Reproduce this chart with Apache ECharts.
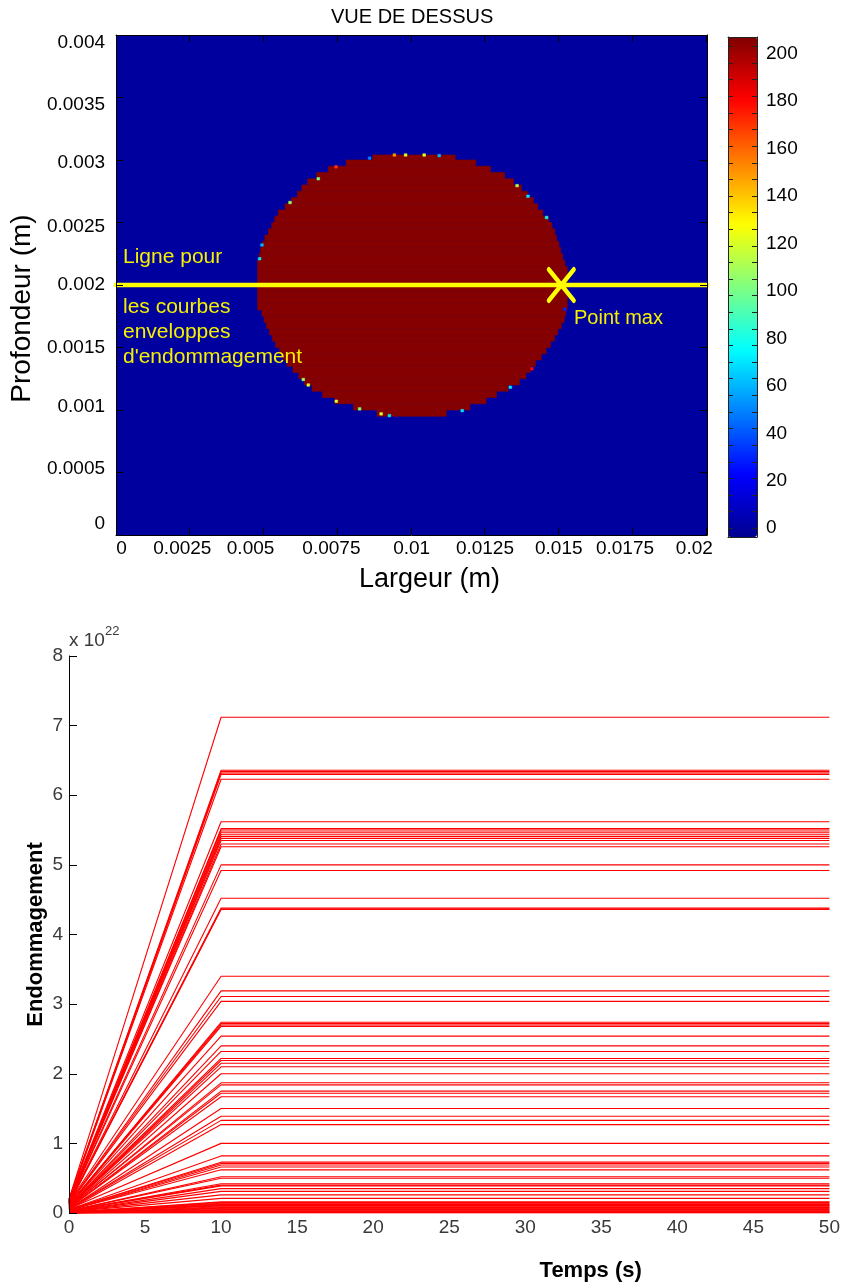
<!DOCTYPE html>
<html>
<head>
<meta charset="utf-8">
<script src="https://cdn.jsdelivr.net/npm/echarts@6/dist/echarts.min.js"></script>
<style>
html,body{margin:0;padding:0;background:#fff;}
#chart{width:843px;height:1288px;}
</style>
</head>
<body>
<div id="chart"></div>
<script>
// ================= DATA =================
// --- top view (heat map), lengths in mm ---
const xTickValues = [0, 0.0025, 0.005, 0.0075, 0.01, 0.0125, 0.015, 0.0175, 0.02];
const yTickValues = [0, 0.0005, 0.001, 0.0015, 0.002, 0.0025, 0.003, 0.0035, 0.004];
const colorbarLabelValues = [0, 20, 40, 60, 80, 100, 120, 140, 160, 180, 200];

// damaged zone: one band per row, bottom of row (mm), left & right edge (mm)
const rowBottomMm = [0.95, 1.00, 1.05, 1.10, 1.15, 1.20, 1.25, 1.30, 1.35, 1.40, 1.45, 1.50, 1.55, 1.60,
  1.65, 1.70, 1.75, 1.80, 1.85, 1.90, 1.95, 2.00, 2.05, 2.10, 2.15, 2.20, 2.25, 2.30, 2.35, 2.40,
  2.45, 2.50, 2.55, 2.60, 2.65, 2.70, 2.75, 2.80, 2.85, 2.90, 2.95, 2.99];
const rowLeftMm = [8.85, 8.05, 7.42, 7.00, 6.65, 6.39, 6.20, 6.00, 5.80, 5.67, 5.55, 5.41, 5.30, 5.20,
  5.10, 5.02, 4.95, 4.80, 4.80, 4.80, 4.80, 4.80, 4.80, 4.80, 4.80, 4.85, 4.90, 4.97, 5.05, 5.17,
  5.28, 5.38, 5.50, 5.73, 5.95, 6.15, 6.30, 6.50, 6.80, 7.20, 7.80, 8.70];
const rowRightMm = [11.20, 12.00, 12.55, 12.90, 13.30, 13.68, 13.90, 14.05, 14.22, 14.42, 14.58, 14.73, 14.87, 14.98,
  15.10, 15.20, 15.25, 15.30, 15.30, 15.30, 15.30, 15.30, 15.30, 15.30, 15.22, 15.15, 15.08, 15.02, 14.94, 14.88,
  14.78, 14.67, 14.47, 14.30, 14.15, 13.95, 13.75, 13.48, 13.18, 12.70, 12.20, 11.50];
const insideValue = 206;
const outsideValue = 0;
// isolated boundary cells [x mm, y mm, value]
const edgeCellsMm = [
  [4.87, 2.21, 70], [4.95, 2.32, 60], [5.90, 2.66, 110], [6.86, 2.85, 100], [7.46, 2.945, 170],
  [8.60, 3.015, 50], [9.44, 3.04, 150], [9.82, 3.04, 120], [10.45, 3.04, 120], [10.96, 3.035, 60],
  [13.60, 2.795, 110], [13.97, 2.71, 70], [14.60, 2.54, 75], [6.35, 1.244, 110], [6.52, 1.20, 120],
  [7.47, 1.07, 120], [8.26, 1.009, 100], [8.99, 0.969, 120], [9.27, 0.955, 70], [14.10, 1.33, 180],
  [13.37, 1.182, 70], [11.74, 0.995, 70], [15.21, 1.806, 30]
];
const profileLineDepth = 0.002;      // m
const pointMax = [0.0151, 0.002];     // m

// --- damage envelope curves (x 1e22) ---
const timeKnots = [0, 10, 50];
const damageFinal = [
  7.12, 6.36, 6.34, 6.32, 6.30, 6.23, 5.62, 5.52, 5.50, 5.47, 5.44, 5.41, 5.38, 5.35, 5.30, 5.26,
  5.00, 4.92, 4.52, 4.38, 4.37, 4.36,
  3.40, 3.19, 3.11, 3.04, 2.74, 2.72, 2.70, 2.68, 2.54, 2.40, 2.32, 2.22, 2.19, 2.15, 2.10, 2.00,
  1.87, 1.84, 1.75, 1.72, 1.67, 1.50, 1.39, 1.33, 1.27,
  1.00, 0.82, 0.73, 0.71, 0.69, 0.66, 0.62, 0.52, 0.50, 0.42, 0.40, 0.39, 0.35, 0.31, 0.26, 0.21,
  0.16, 0.15, 0.14, 0.13, 0.12, 0.11, 0.10, 0.09, 0.08, 0.07, 0.06, 0.05, 0.04, 0.03, 0.02, 0.01, 0.005, 0
];
const damageStart = [
  0.20, 0.20, 0.19, 0.19, 0.18, 0.18, 0.18, 0.17, 0.17, 0.17, 0.16, 0.16, 0.16, 0.15, 0.15, 0.15,
  0.15, 0.14, 0.14, 0.14, 0.13, 0.13,
  0.15, 0.14, 0.14, 0.13, 0.12, 0.12, 0.12, 0.11, 0.11, 0.10, 0.10, 0.10, 0.09, 0.09, 0.09, 0.08,
  0.08, 0.08, 0.07, 0.07, 0.07, 0.06, 0.06, 0.06, 0.05,
  0.06, 0.05, 0.05, 0.05, 0.04, 0.04, 0.04, 0.03, 0.03, 0.03, 0.03, 0.03, 0.02, 0.02, 0.02, 0.02,
  0.01, 0.01, 0.01, 0.01, 0.01, 0.01, 0.01, 0.0, 0.0, 0.0, 0.0, 0.0, 0.0, 0.0, 0.0, 0.0, 0.0, 0
];

// ================= LAYOUT / STYLE =================
const FONT = 'Liberation Sans, Arial, sans-serif';
const MM = 0.001;
const rowHeightMm = 0.05;
const edgeCellHalf = [0.045, 0.01];
const X_MIN = 0, X_MAX = 0.02004;
const Y_MIN = 0, Y_MAX = 0.004;
const CB_MIN = -3.7, CB_MAX = 207;
const jet = ['#00008F', '#0000FF', '#0080FF', '#00FFFF', '#80FF80', '#FFFF00', '#FF8000', '#FF0000', '#800000'];

// label nudges of the original figure (px)
const yLabelShift = {'0.004': 8, '0.0035': 7.5, '0.003': 3, '0.0025': 4.7, '0.002': 0, '0.0015': 0.5, '0.001': -3.3, '0.0005': -4, '0': -11.3};
const xLabelShift = {'0': 5.5, '0.0025': -7.4, '0.005': -12.9, '0.0075': -5.8, '0.01': 0.7, '0.0125': 0.3, '0.015': 0.4, '0.0175': -7.1, '0.02': -11.5};

function fmt(v) { return String(Number(Number(v).toPrecision(6))); }
const yRich = {}, xRich = {};
Object.keys(yLabelShift).forEach((k, i) => {
  const d = yLabelShift[k];
  yRich['y' + i] = {fontSize: 19, fontFamily: FONT, color: '#000', padding: d >= 0 ? [2 * d, 0, 0, 0] : [0, 0, -2 * d, 0]};
});
Object.keys(xLabelShift).forEach((k, i) => {
  const d = xLabelShift[k];
  xRich['x' + i] = {fontSize: 19, fontFamily: FONT, color: '#000', padding: d >= 0 ? [0, 0, 0, 2 * d] : [0, -2 * d, 0, 0]};
});
const yKeys = Object.keys(yLabelShift), xKeys = Object.keys(xLabelShift);

// ---- build heat-map cells ----
const cells = [];
cells.push([X_MIN, X_MAX, Y_MIN, Y_MAX, outsideValue]);
rowBottomMm.forEach((yb, i) => {
  cells.push([rowLeftMm[i] * MM, rowRightMm[i] * MM, yb * MM, (yb + rowHeightMm) * MM, insideValue]);
});
edgeCellsMm.forEach(c => {
  cells.push([(c[0] - edgeCellHalf[0]) * MM, (c[0] + edgeCellHalf[0]) * MM,
              (c[1] - edgeCellHalf[1]) * MM, (c[1] + edgeCellHalf[1]) * MM, c[2]]);
});

const cbTicks = [];
for (let v = 0; v <= 206; v += 7) cbTicks.push(v);

// ---- damage series ----
const damageSeries = damageFinal.map((f, i) => ({
  type: 'line',
  xAxisIndex: 4, yAxisIndex: 4,
  data: timeKnots.map((t, k) => [t, k === 0 ? damageStart[i] : f]),
  symbol: 'none',
  lineStyle: {color: '#ff0000', width: 1.1},
  silent: true,
  animation: false,
  z: 3
}));

const noZero = {onZero: false};

const option = {
  animation: false,
  backgroundColor: '#ffffff',
  title: {
    text: 'VUE DE DESSUS', left: 331, top: 7, padding: 0,
    textStyle: {fontFamily: FONT, fontSize: 20, fontWeight: 'normal', color: '#000'}
  },
  grid: [
    {left: 114, top: 35, width: 593, height: 500},
    {left: 728, top: 37, width: 29, height: 500},
    {left: 69, top: 656, width: 761, height: 557}
  ],
  visualMap: {
    type: 'continuous', seriesIndex: 0, dimension: 4,
    min: CB_MIN, max: CB_MAX,
    inRange: {color: jet},
    left: 728, top: 37, itemWidth: 29, itemHeight: 500,
    padding: 0, calculable: false, realtime: false, hoverLink: false,
    z: 2
  },
  xAxis: [
    { gridIndex: 0, type: 'value', position: 'bottom', min: X_MIN, max: X_MAX,
      axisLine: {show: true, onZero: false, lineStyle: {color: '#000', width: 1}},
      axisTick: {show: true, inside: true, length: 7, customValues: xTickValues, lineStyle: {color: '#000'}},
      axisLabel: {show: true, margin: 4, customValues: xTickValues, fontSize: 19, fontFamily: FONT, color: '#000',
        formatter: v => { const s = fmt(v); const i = xKeys.indexOf(s); return i >= 0 ? '{x' + i + '|' + s + '}' : s; },
        rich: xRich},
      splitLine: {show: false},
      name: 'Largeur (m)', nameLocation: 'middle', nameGap: 31,
      nameTextStyle: {fontFamily: FONT, fontSize: 27, color: '#000', padding: [0, 0, 0, 36]},
      z: 10
    },
    { gridIndex: 0, type: 'value', position: 'top', min: X_MIN, max: X_MAX,
      axisLine: {show: true, onZero: false, lineStyle: {color: '#000', width: 1}},
      axisTick: {show: true, inside: true, length: 7, customValues: xTickValues, lineStyle: {color: '#000'}},
      axisLabel: {show: false}, splitLine: {show: false}, z: 10
    },
    { gridIndex: 1, type: 'value', position: 'bottom', min: 0, max: 1,
      axisLine: {show: true, onZero: false, lineStyle: {color: '#222', width: 1}},
      axisTick: {show: false}, axisLabel: {show: false}, splitLine: {show: false}, z: 10
    },
    { gridIndex: 1, type: 'value', position: 'top', min: 0, max: 1,
      axisLine: {show: true, onZero: false, lineStyle: {color: '#222', width: 1}},
      axisTick: {show: false}, axisLabel: {show: false}, splitLine: {show: false}, z: 10
    },
    { gridIndex: 2, type: 'value', position: 'bottom', min: 0, max: 50, interval: 5,
      axisLine: {show: false, onZero: false}, axisTick: {show: false},
      axisLabel: {show: true, margin: 5, fontSize: 19, fontFamily: FONT, color: '#3a3a3a'},
      splitLine: {show: false},
      name: 'Temps (s)', nameLocation: 'middle', nameGap: 47,
      nameTextStyle: {fontFamily: FONT, fontSize: 22, fontWeight: 'bold', color: '#000', padding: [0, 0, 0, 283]}
    }
  ],
  yAxis: [
    { gridIndex: 0, type: 'value', position: 'left', min: Y_MIN, max: Y_MAX, interval: 0.0005,
      axisLine: {show: true, onZero: false, lineStyle: {color: '#000', width: 1}},
      axisTick: {show: true, inside: true, length: 7, lineStyle: {color: '#000'}},
      axisLabel: {show: true, margin: 11, fontSize: 19, fontFamily: FONT, color: '#000',
        formatter: v => { const s = fmt(v); const i = yKeys.indexOf(s); return i >= 0 ? '{y' + i + '|' + s + '}' : s; },
        rich: yRich},
      splitLine: {show: false},
      name: 'Profondeur (m)', nameLocation: 'middle', nameGap: 73,
      nameTextStyle: {fontFamily: FONT, fontSize: 28, color: '#000', padding: [0, 47, 0, 0]},
      z: 10
    },
    { gridIndex: 0, type: 'value', position: 'right', min: Y_MIN, max: Y_MAX, interval: 0.0005,
      axisLine: {show: true, onZero: false, lineStyle: {color: '#000', width: 1}},
      axisTick: {show: true, inside: true, length: 7, lineStyle: {color: '#000'}},
      axisLabel: {show: false}, splitLine: {show: false}, z: 10
    },
    { gridIndex: 1, type: 'value', position: 'left', min: CB_MIN, max: CB_MAX,
      axisLine: {show: true, onZero: false, lineStyle: {color: '#222', width: 1}},
      axisTick: {show: true, inside: true, length: 5, customValues: cbTicks, lineStyle: {color: '#222'}},
      axisLabel: {show: false}, splitLine: {show: false}, z: 10
    },
    { gridIndex: 1, type: 'value', position: 'right', min: CB_MIN, max: CB_MAX,
      axisLine: {show: true, onZero: false, lineStyle: {color: '#222', width: 1}},
      axisTick: {show: true, inside: true, length: 5, customValues: cbTicks, lineStyle: {color: '#222'}},
      axisLabel: {show: true, margin: 9, customValues: colorbarLabelValues, fontSize: 19, fontFamily: FONT, color: '#000'},
      splitLine: {show: false}, z: 10
    },
    { gridIndex: 2, type: 'value', position: 'left', min: 0, max: 8, interval: 1,
      axisLine: {show: true, onZero: false, lineStyle: {color: '#000', width: 1}},
      axisTick: {show: true, inside: true, length: 8, lineStyle: {color: '#000'}},
      axisLabel: {show: true, margin: 6, fontSize: 19, fontFamily: FONT, color: '#3a3a3a'},
      splitLine: {show: false},
      name: '{a|x 10}{b|22}', nameLocation: 'end', nameGap: 6,
      nameTextStyle: {align: 'left', verticalAlign: 'bottom',
        rich: {a: {fontSize: 19, fontFamily: FONT, color: '#3a3a3a', verticalAlign: 'bottom'},
               b: {fontSize: 13, fontFamily: FONT, color: '#3a3a3a', verticalAlign: 'bottom', padding: [0, 0, 12, 0]}}},
      z: 10
    },
    { gridIndex: 2, type: 'value', position: 'left', min: 0, max: 8, interval: 1,
      axisLine: {show: false, onZero: false}, axisTick: {show: false}, axisLabel: {show: false}, splitLine: {show: false},
      name: 'Endommagement', nameLocation: 'middle', nameGap: 22,
      nameTextStyle: {fontFamily: FONT, fontSize: 22, fontWeight: 'bold', color: '#000'}
    }
  ],
  graphic: [
    {type: 'text', left: 123, top: 247, z: 100, style: {text: 'Ligne pour', font: '21px ' + FONT, fill: '#f5f000'}},
    {type: 'text', left: 123, top: 297, z: 100, style: {text: 'les courbes', font: '21px ' + FONT, fill: '#f5f000'}},
    {type: 'text', left: 123, top: 322, z: 100, style: {text: 'enveloppes', font: '21px ' + FONT, fill: '#f5f000'}},
    {type: 'text', left: 123, top: 347, z: 100, style: {text: "d'endommagement", font: '21px ' + FONT, fill: '#f5f000'}},
    {type: 'text', left: 574, top: 308, z: 100, style: {text: 'Point max', font: '20px ' + FONT, fill: '#f5f000'}}
  ],
  series: [
    {
      type: 'custom', xAxisIndex: 0, yAxisIndex: 0, data: cells, silent: true, clip: true,
      encode: {x: [0, 1], y: [2, 3]},
      renderItem: function (params, api) {
        const p0 = api.coord([api.value(0), api.value(3)]);
        const p1 = api.coord([api.value(1), api.value(2)]);
        const c = api.visual('color');
        return {type: 'rect', shape: {x: p0[0], y: p0[1], width: p1[0] - p0[0], height: p1[1] - p0[1]},
                style: {fill: c, stroke: c, lineWidth: 0.6}};
      },
      z: 1
    },
    {
      type: 'line', xAxisIndex: 0, yAxisIndex: 0,
      data: [[X_MIN, profileLineDepth], [X_MAX, profileLineDepth]],
      symbol: 'none', clip: false, silent: true,
      lineStyle: {color: '#ffff00', width: 4.5, cap: 'round'}, z: 5
    },
    {
      type: 'scatter', xAxisIndex: 0, yAxisIndex: 0, data: [pointMax],
      symbol: 'path://M0 0L24 30M24 0L0 30', symbolSize: [25, 31], silent: true,
      itemStyle: {color: 'rgba(0,0,0,0)', borderColor: '#ffff00', borderWidth: 4.5, borderCap: 'round', opacity: 1},
      z: 6
    }
  ].concat(damageSeries)
};

const chart = echarts.init(document.getElementById('chart'), null, {renderer: 'canvas'});
chart.setOption(option);
</script>
</body>
</html>
